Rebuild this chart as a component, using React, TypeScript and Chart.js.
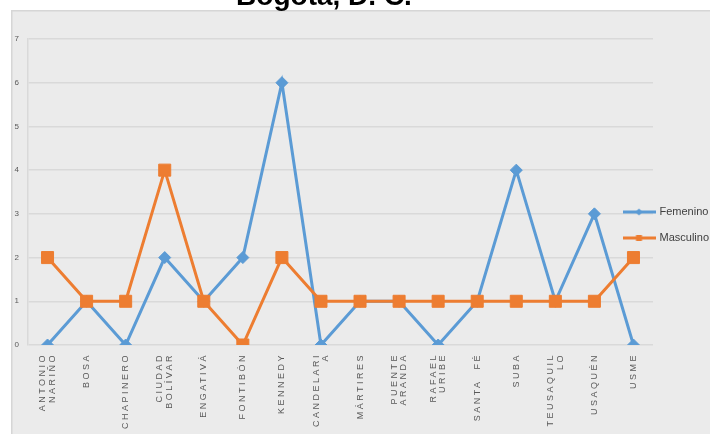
import React, { useEffect, useRef } from "react";
import { Chart, registerables } from "chart.js";

Chart.register(...registerables);

const titleText = "Bogotá, D. C.";
const categories: (string | string[])[] = [
  ["ANTONIO", "NARIÑO"],
  "BOSA",
  "CHAPINERO",
  ["CIUDAD", "BOLÍVAR"],
  "ENGATIVÁ",
  "FONTIBÓN",
  "KENNEDY",
  ["CANDELARI", "A"],
  "MÁRTIRES",
  ["PUENTE", "ARANDA"],
  ["RAFAEL", "URIBE"],
  "SANTA  FÉ",
  "SUBA",
  ["TEUSAQUIL", "LO"],
  "USAQUÉN",
  "USME",
];
const seriesNames = ["Femenino", "Masculino"];
const femenino = [0, 1, 0, 2, 1, 2, 6, 0, 1, 1, 0, 1, 4, 1, 3, 0];
const masculino = [2, 1, 1, 4, 1, 0, 2, 1, 1, 1, 1, 1, 1, 1, 1, 2];
const yMin = 0;
const yMax = 7;
const yStep = 1;

const BLUE = "#5B9BD5";
const ORANGE = "#ED7D31";
const FONT = "'Liberation Sans', Arial, sans-serif";
const X_FONT_SIZE = 9;
const X_LINE_HEIGHT = 1.05;

function legendSymbol(color: string, kind: "diamond" | "square"): HTMLCanvasElement {
  const c = document.createElement("canvas");
  c.width = 33;
  c.height = 12;
  const g = c.getContext("2d")!;
  g.strokeStyle = color;
  g.fillStyle = color;
  g.lineWidth = 3;
  g.beginPath();
  g.moveTo(0, 6);
  g.lineTo(33, 6);
  g.stroke();
  g.beginPath();
  if (kind === "diamond") {
    g.moveTo(16.5 - 3.5, 6);
    g.lineTo(16.5, 2.5);
    g.lineTo(20, 6);
    g.lineTo(16.5, 9.5);
    g.closePath();
  } else {
    g.rect(13.5, 3, 6, 6);
  }
  g.fill();
  return c;
}

const panelPlugin = {
  id: "panelBg",
  beforeDraw(chart: any) {
    const { ctx, width, height } = chart;
    ctx.save();
    ctx.fillStyle = "#ffffff";
    ctx.fillRect(0, 0, width, height);
    ctx.fillStyle = "#ebebeb";
    ctx.fillRect(11, 10, width - 11, height - 10);
    ctx.strokeStyle = "#d6d6d6";
    ctx.lineWidth = 1.5;
    ctx.beginPath();
    ctx.moveTo(11.75, height);
    ctx.lineTo(11.75, 10.75);
    ctx.lineTo(width, 10.75);
    ctx.stroke();
    ctx.restore();
  },
};

const tweakPlugin = {
  id: "tweaks",
  beforeLayout(chart: any) {
    const lg = chart.legend;
    if (lg && !lg._fixedFit) {
      const fit = lg.fit.bind(lg);
      lg.fit = function () {
        fit();
        this.width = 57;
      };
      lg._fixedFit = true;
    }
  },
  afterLayout(chart: any) {
    const lg = chart.legend;
    if (lg) {
      lg.left = 609;
      lg.right = 710;
      lg.width = 101;
      lg.top = 16;
      lg.bottom = 434;
      lg.height = 418;
    }
    const t = chart.titleBlock;
    if (t) {
      t.left -= 31;
      t.right -= 31;
    }
    const sx = chart.scales.x;
    if (sx && !sx._spaced) {
      const orig = sx.drawLabels.bind(sx);
      sx.drawLabels = (area: any) => {
        const ctx = chart.ctx;
        ctx.save();
        (ctx as any).letterSpacing = "2.5px";
        orig(area);
        ctx.restore();
      };
      const compute = sx._computeLabelItems.bind(sx);
      sx._computeLabelItems = (area: any) => {
        const items = compute(area);
        const lh = X_FONT_SIZE * X_LINE_HEIGHT;
        items.forEach((it: any) => {
          if (Array.isArray(it.label) && it.label.length > 1) {
            const tr = it.options.translation;
            it.options.translation = [tr[0] - ((it.label.length - 1) * lh) / 2, tr[1]];
          }
        });
        return items;
      };
      sx._spaced = true;
    }
  },
};

export default function App() {
  const ref = useRef<HTMLCanvasElement | null>(null);

  useEffect(() => {
    document.body.style.margin = "0";
    const canvas = ref.current;
    if (!canvas) return;
    const symbols = [legendSymbol(BLUE, "diamond"), legendSymbol(ORANGE, "square")];
    const chart = new Chart(canvas, {
      type: "line",
      data: {
        labels: categories,
        datasets: [
          {
            label: seriesNames[0],
            data: femenino,
            borderColor: BLUE,
            backgroundColor: BLUE,
            borderWidth: 3,
            pointStyle: "rectRot",
            pointRadius: 6,
            pointBorderWidth: 1,
            pointBackgroundColor: BLUE,
            pointBorderColor: BLUE,
            tension: 0,
            order: 1,
          },
          {
            label: seriesNames[1],
            data: masculino,
            borderColor: ORANGE,
            backgroundColor: ORANGE,
            borderWidth: 3,
            pointStyle: "rect",
            pointRadius: 8.5,
            pointBorderWidth: 1,
            pointBackgroundColor: ORANGE,
            pointBorderColor: ORANGE,
            tension: 0,
            order: 0,
          },
        ],
      },
      options: {
        responsive: false,
        animation: false,
        layout: { padding: 0 },
        plugins: {
          tooltip: { enabled: false },
          title: {
            display: true,
            text: titleText,
            color: "#000000",
            font: { family: FONT, size: 28, weight: "bold", lineHeight: 1.2 },
            padding: { top: -19.5, bottom: 24.9 },
          },
          legend: {
            display: true,
            position: "right",
            labels: {
              usePointStyle: true,
              pointStyleWidth: 30,
              padding: 15,
              color: "#404040",
              font: { family: FONT, size: 11 },
              sort: (a: any, b: any) => a.datasetIndex - b.datasetIndex,
              generateLabels: (ch: any) => {
                const items = Chart.defaults.plugins.legend.labels.generateLabels(ch);
                items.forEach((it: any) => {
                  it.pointStyle = symbols[it.datasetIndex];
                });
                return items;
              },
            },
          },
        },
        scales: {
          x: {
            type: "category",
            offset: true,
            grid: { display: false, drawTicks: false },
            border: { display: false },
            ticks: {
              autoSkip: false,
              minRotation: 90,
              maxRotation: 90,
              padding: 8,
              color: "#595959",
              font: { family: FONT, size: X_FONT_SIZE, lineHeight: X_LINE_HEIGHT },
            },
            afterFit: (s: any) => {
              s.height = 89;
            },
          },
          y: {
            min: yMin,
            max: yMax,
            grid: { color: "#d9d9d9", lineWidth: 1.5, drawTicks: false },
            border: { display: true, color: "#d9d9d9", width: 1.5 },
            ticks: {
              stepSize: yStep,
              padding: 9,
              color: "#595959",
              font: { family: FONT, size: 8 },
            },
            afterFit: (s: any) => {
              s.width = 28;
            },
          },
        },
      },
      plugins: [panelPlugin, tweakPlugin],
    });
    return () => chart.destroy();
  }, []);

  return (
    <div style={{ width: 710, height: 434 }}>
      <canvas ref={ref} width={710} height={434} style={{ display: "block" }} />
    </div>
  );
}
